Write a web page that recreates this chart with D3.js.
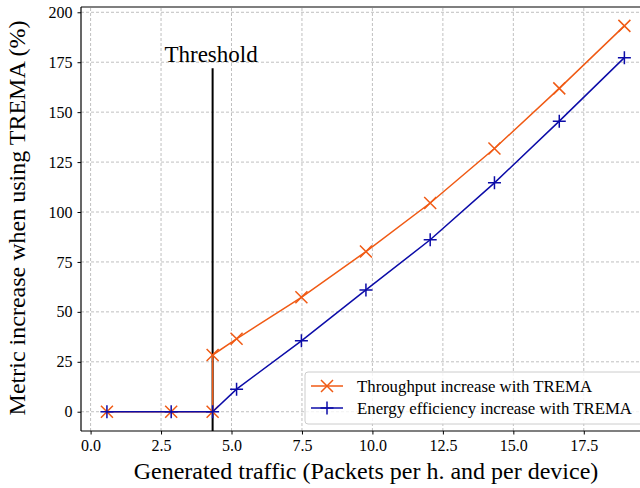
<!DOCTYPE html>
<html>
<head>
<meta charset="utf-8">
<script src="https://cdn.jsdelivr.net/npm/d3@7"></script>
<style>
  body { margin: 0; background: #fff; }
  svg { display: block; font-family: "Liberation Serif", "DejaVu Serif", serif; }
</style>
</head>
<body>
<svg width="640" height="488"></svg>
<script>
// values
var trafficX = [0.58, 2.86, 4.33, 4.33, 5.18, 7.48, 9.77, 12.05, 14.33, 16.63, 18.94];
var throughputY = [0, 0, 0, 28.4, 36.5, 57.3, 80.2, 104.5, 131.8, 161.9, 193.2];
var energyX = [0.58, 2.86, 4.33, 5.18, 7.48, 9.77, 12.05, 14.33, 16.63, 18.94];
var energyY = [0, 0, 0, 11.3, 35.5, 61.0, 86.1, 114.6, 145.5, 177.3];
var xTicks = [0, 2.5, 5, 7.5, 10, 12.5, 15, 17.5];
var yTicks = [0, 25, 50, 75, 100, 125, 150, 175, 200];
var thresholdX = 4.33, thresholdTop = 172;
var seriesNames = ["Throughput increase with TREMA", "Energy efficiency increase with TREMA"];

var svg = d3.select("svg"),
    width = +svg.attr("width"),
    height = +svg.attr("height");

var serif = "'Liberation Serif', serif";
var orange = "#f05a14", blue = "#0c0ca8";

var x = d3.scaleLinear().domain([-0.34, 19.92]).range([81, 652]);
var y = d3.scaleLinear().domain([-9.65, 202.65]).range([431, 7]);

// grid
var grid = svg.append("g").attr("class", "grid");
grid.selectAll("line.vx").data(xTicks).enter().append("line")
    .attr("x1", function(d) { return x(d); }).attr("x2", function(d) { return x(d); })
    .attr("y1", y.range()[0]).attr("y2", y.range()[1]);
grid.selectAll("line.hy").data(yTicks).enter().append("line")
    .attr("y1", function(d) { return y(d); }).attr("y2", function(d) { return y(d); })
    .attr("x1", x.range()[0]).attr("x2", x.range()[1]);
grid.selectAll("line")
    .attr("stroke", "#b0b0b0").attr("stroke-width", 0.8).attr("stroke-dasharray", "3,2");

// threshold line + label
svg.append("line")
    .attr("x1", x(thresholdX)).attr("x2", x(thresholdX))
    .attr("y1", y.range()[0]).attr("y2", y(thresholdTop))
    .attr("stroke", "#000").attr("stroke-width", 2);
svg.append("text")
    .attr("x", x(2.62)).attr("y", y(175.3))
    .attr("font-family", serif).attr("font-size", 23)
    .text("Threshold");

var line = d3.line()
    .x(function(d) { return x(d[0]); })
    .y(function(d) { return y(d[1]); });

var thrData = d3.zip(trafficX, throughputY);
var engData = d3.zip(energyX, energyY);

function crossPath(s) { return "M" + -s + "," + -s + "L" + s + "," + s + "M" + -s + "," + s + "L" + s + "," + -s; }
function plusPath(s) { return "M" + -s + ",0L" + s + ",0M0," + -s + "L0," + s; }

function drawSeries(data, color, marker) {
    var g = svg.append("g");
    g.append("path").datum(data)
        .attr("d", line)
        .attr("fill", "none").attr("stroke", color).attr("stroke-width", 1.5);
    g.selectAll("path.m").data(data).enter().append("path")
        .attr("class", "m")
        .attr("transform", function(d) { return "translate(" + x(d[0]) + "," + y(d[1]) + ")"; })
        .attr("d", marker)
        .attr("fill", "none").attr("stroke", color).attr("stroke-width", 1.5);
}

drawSeries(thrData, orange, crossPath(6));
drawSeries(engData, blue, plusPath(6.5));

// spines
var frame = [[81, 7, 81, 431], [81, 431, 652, 431], [81, 7, 652, 7], [652, 7, 652, 431]];
svg.selectAll("line.spine").data(frame).enter().append("line")
    .attr("class", "spine")
    .attr("x1", function(d) { return d[0]; }).attr("y1", function(d) { return d[1]; })
    .attr("x2", function(d) { return d[2]; }).attr("y2", function(d) { return d[3]; })
    .attr("stroke", "#000").attr("stroke-width", 1.2);

// axes
var xAxis = svg.append("g")
    .attr("transform", "translate(0,431)")
    .call(d3.axisBottom(x).tickValues(xTicks).tickFormat(d3.format(".1f")).tickSize(3.5).tickPadding(5));
var yAxis = svg.append("g")
    .attr("transform", "translate(81,0)")
    .call(d3.axisLeft(y).tickValues(yTicks).tickFormat(d3.format("d")).tickSize(3.5).tickPadding(5));
[xAxis, yAxis].forEach(function(a) {
    a.attr("font-family", serif).attr("font-size", 16);
    a.select(".domain").remove();
    a.selectAll("text").attr("fill", "#000");
    a.selectAll(".tick line").attr("stroke", "#000").attr("stroke-width", 1);
});

// axis labels
svg.append("text")
    .attr("x", 366).attr("y", 479)
    .attr("text-anchor", "middle").attr("font-family", serif).attr("font-size", 24)
    .text("Generated traffic (Packets per h. and per device)");
svg.append("text")
    .attr("transform", "translate(25,218) rotate(-90)")
    .attr("text-anchor", "middle").attr("font-family", serif).attr("font-size", 24)
    .text("Metric increase when using TREMA (%)");

// legend
var legend = svg.append("g").attr("transform", "translate(305,372)");
legend.append("rect")
    .attr("width", 345).attr("height", 52).attr("rx", 3)
    .attr("fill", "#fff").attr("fill-opacity", 0.8)
    .attr("stroke", "#cccccc").attr("stroke-width", 1);
var entries = [[seriesNames[0], orange, crossPath(6)], [seriesNames[1], blue, plusPath(6.5)]];
var rows = legend.selectAll("g.row").data(entries).enter().append("g")
    .attr("transform", function(d, i) { return "translate(0," + (14 + i * 22) + ")"; });
rows.append("line").attr("x1", 6).attr("x2", 38)
    .attr("stroke", function(d) { return d[1]; }).attr("stroke-width", 1.5);
rows.append("path").attr("transform", "translate(22,0)")
    .attr("d", function(d) { return d[2]; })
    .attr("fill", "none").attr("stroke", function(d) { return d[1]; }).attr("stroke-width", 1.5);
rows.append("text").attr("x", 52).attr("dy", "0.35em")
    .attr("font-family", serif).attr("font-size", 16.8)
    .text(function(d) { return d[0]; });
</script>
</body>
</html>
